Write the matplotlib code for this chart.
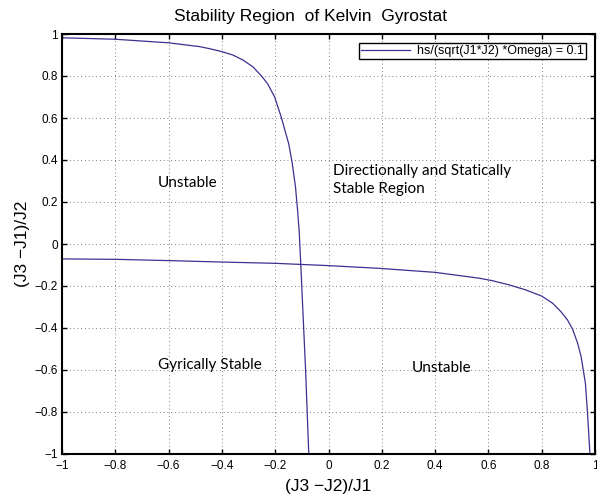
import matplotlib
matplotlib.use("Agg")
import matplotlib.pyplot as plt

# values
# branch 1: upper-left curve coming down near x = -0.1
branch1_x = [-1.0, -0.8, -0.6, -0.484, -0.446, -0.4, -0.359, -0.321, -0.284,
             -0.252, -0.228, -0.202, -0.177, -0.165, -0.149, -0.136, -0.124,
             -0.116, -0.110, -0.104, -0.095, -0.086, -0.074]
branch1_y = [0.982, 0.975, 0.958, 0.940, 0.930, 0.916, 0.900, 0.876, 0.844,
             0.801, 0.762, 0.700, 0.603, 0.548, 0.476, 0.384, 0.273,
             0.16, 0.06, -0.097, -0.35, -0.6, -1.0]

# branch 2: nearly flat curve dropping near x = 1
branch2_x = [-1.0, -0.8, -0.6, -0.4, -0.2, 0.0, 0.191, 0.4, 0.566, 0.616,
             0.679, 0.741, 0.8, 0.841, 0.872, 0.897, 0.916, 0.935, 0.948,
             0.956, 0.964, 0.972, 0.981]
branch2_y = [-0.071, -0.073, -0.079, -0.086, -0.092, -0.103, -0.116, -0.135,
             -0.163, -0.175, -0.195, -0.219, -0.248, -0.282, -0.322, -0.362,
             -0.406, -0.473, -0.537, -0.6, -0.663, -0.806, -1.0]

legend_label = "hs/(sqrt(J1*J2) *Omega) = 0.1"
ticks = [-1, -0.8, -0.6, -0.4, -0.2, 0, 0.2, 0.4, 0.6, 0.8, 1]
tick_labels = ["\u22121", "\u22120.8", "\u22120.6", "\u22120.4", "\u22120.2", "0",
               "0.2", "0.4", "0.6", "0.8", "1"]

region_labels = ["Unstable", "Directionally and Statically\nStable Region",
                 "Gyrically Stable", "Unstable"]
region_x = [-0.642, 0.016, -0.64, 0.312]
region_y = [0.292, 0.306, -0.575, -0.592]

line_color = "#3b3190"
plt.rcParams["font.family"] = ["Liberation Sans", "DejaVu Sans"]

fig = plt.figure(figsize=(5.97, 5.0), dpi=100)
ax = fig.add_axes([62 / 597, 46 / 500, 533 / 597, 420 / 500])

ax.plot(branch1_x, branch1_y, color=line_color, linewidth=0.9, label=legend_label)
ax.plot(branch2_x, branch2_y, color=line_color, linewidth=0.9)

ax.set_xlim(-1, 1)
ax.set_ylim(-1, 1)
ax.set_xticks(ticks)
ax.set_yticks(ticks)
ax.set_xticklabels(tick_labels)
ax.set_yticklabels(tick_labels)
ax.tick_params(direction="in", length=3.6, width=1, labelsize=8.5,
               top=True, right=True)
ax.tick_params(axis="x", pad=4.5)
ax.tick_params(axis="y", pad=3)
for s in ax.spines.values():
    s.set_linewidth(1.5)
ax.grid(True, color="#555555", linestyle=(0, (1, 3.5)), linewidth=0.6)

for lbl, x, y in zip(region_labels, region_x, region_y):
    ax.text(x, y, lbl, fontsize=11, family="Lato", ha="left", va="center",
            linespacing=1.35)

fig.text(310 / 597, 1 - 17 / 500, "Stability Region  of Kelvin  Gyrostat",
         fontsize=12.5, ha="center", va="center")
ax.set_xlabel("(J3 \u2212J2)/J1", fontsize=12.5, labelpad=5)
ax.set_ylabel("(J3 \u2212J1)/J2", fontsize=12.5, labelpad=3)

leg = ax.legend(loc="upper right", bbox_to_anchor=(586 / 597, 1 - 43 / 500),
                bbox_transform=fig.transFigure, fontsize=9, fancybox=False,
                framealpha=1, edgecolor="black", handlelength=3.9,
                borderpad=0.15, handletextpad=0.6, borderaxespad=0)
leg.get_frame().set_linewidth(1.0)

fig.savefig("out.png", dpi=100)
